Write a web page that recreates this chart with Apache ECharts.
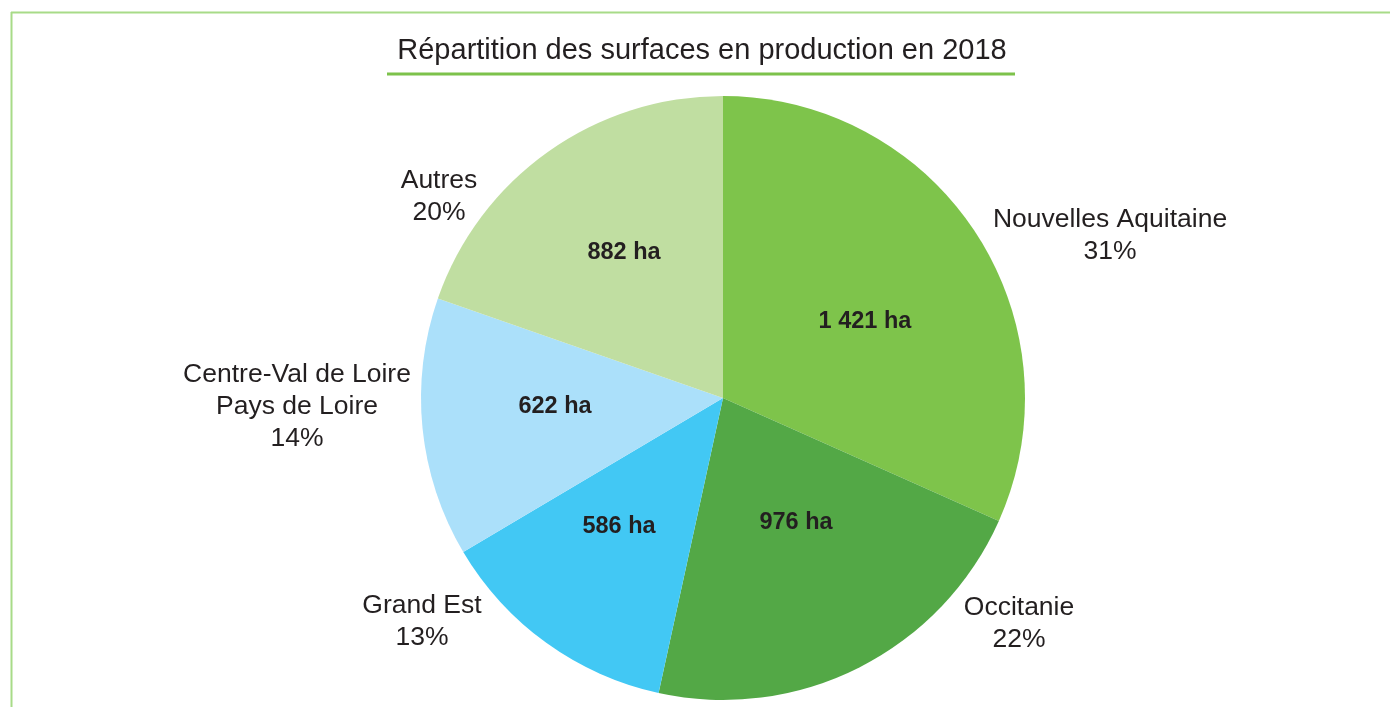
<!DOCTYPE html>
<html>
<head>
<meta charset="utf-8">
<title>Répartition des surfaces en production en 2018</title>
<script src="https://cdn.jsdelivr.net/npm/echarts@6/dist/echarts.min.js"></script>
<style>
  html, body { margin: 0; padding: 0; background: #fff; }
  #chart { width: 1390px; height: 707px; }
</style>
</head>
<body>
<div id="chart"></div>
<script>
// données
const regions = ['Nouvelles Aquitaine', 'Occitanie', 'Grand Est', 'Centre-Val de Loire\nPays de Loire', 'Autres'];
const surfaces = [1421, 976, 586, 622, 882];
const pourcents = [31, 22, 13, 14, 20];
const couleurs = ['#7ec44b', '#53a846', '#42c8f4', '#abe0fa', '#c0dea1'];

// positions des étiquettes (centre du texte, en px)
const posValeurs = [[865, 322], [796, 523], [619, 527], [555, 407], [624, 253]];
const posNoms = [[1110, 236], [1019, 624], [422, 622], [297, 407], [439, 197]];

const police = 'Liberation Sans';
const fmtHa = v => String(v).replace(/\B(?=(\d{3})+(?!\d))/g, ' ') + ' ha';

const pieData = regions.map((nom, i) => ({
    name: nom,
    value: surfaces[i],
    itemStyle: { color: couleurs[i] }
}));

const chart = echarts.init(document.getElementById('chart'));

const option = {
    animation: false,
    graphic: [
        // cadre vert
        { type: 'line', shape: { x1: 11.5, y1: 12, x2: 11.5, y2: 707 }, style: { stroke: '#a8db88', lineWidth: 2 } },
        { type: 'line', shape: { x1: 11, y1: 12.5, x2: 1390, y2: 12.5 }, style: { stroke: '#a8db88', lineWidth: 2 } },
        // soulignement du titre
        { type: 'line', shape: { x1: 387, y1: 74, x2: 1015, y2: 74 }, style: { stroke: '#7dc24b', lineWidth: 3 } },
        {
            type: 'text', x: 702, y: 51,
            style: {
                text: 'Répartition des surfaces en production en 2018',
                fontFamily: police,
                fontSize: 29,
                fill: '#231f20', align: 'center', verticalAlign: 'middle'
            }
        }
    ],
    series: [
        {
            type: 'pie',
            center: [723, 398],
            radius: [0, 302],
            startAngle: 90,
            clockwise: true,
            silent: true,
            data: pieData,
            label: {
                show: true,
                position: 'inside',
                formatter: p => fmtHa(p.value),
                fontFamily: police,
                fontSize: 23.5,
                fontWeight: 'bold',
                color: '#231f20'
            },
            labelLine: { show: false },
            labelLayout: p => ({
                x: posValeurs[p.dataIndex][0],
                y: posValeurs[p.dataIndex][1],
                align: 'center',
                verticalAlign: 'middle'
            })
        },
        {
            type: 'pie',
            center: [723, 398],
            radius: [0, 302],
            startAngle: 90,
            clockwise: true,
            silent: true,
            data: pieData.map(d => ({ name: d.name, value: d.value, itemStyle: { color: 'rgba(0,0,0,0)' } })),
            label: {
                show: true,
                position: 'outside',
                formatter: p => p.name + '\n' + pourcents[p.dataIndex] + '%',
                fontFamily: police,
                fontSize: 26.5,
                lineHeight: 32,
                align: 'center',
                color: '#231f20'
            },
            labelLine: { show: false },
            labelLayout: p => ({
                x: posNoms[p.dataIndex][0],
                y: posNoms[p.dataIndex][1],
                align: 'center',
                verticalAlign: 'middle'
            })
        }
    ]
};

chart.setOption(option);
</script>
</body>
</html>
